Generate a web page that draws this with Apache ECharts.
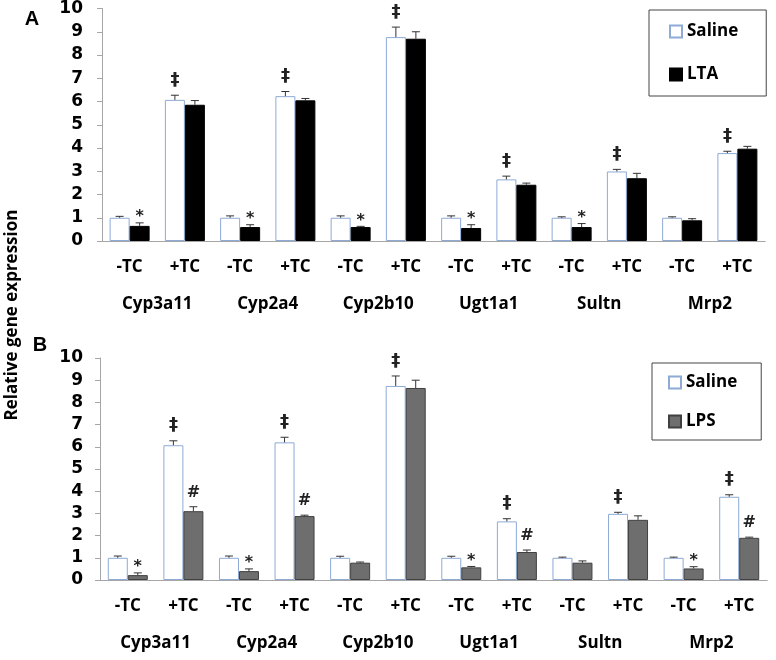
<!DOCTYPE html>
<html>
<head>
<meta charset="utf-8">
<script src="https://cdn.jsdelivr.net/npm/echarts@6/dist/echarts.min.js"></script>
<style>
  html, body { margin: 0; padding: 0; background: #fff; }
  #chart { width: 776px; height: 660px; }
</style>
</head>
<body>
<div id="chart"></div>
<script>
// categories
const subCats = ['-TC', '+TC', '-TC', '+TC', '-TC', '+TC', '-TC', '+TC', '-TC', '+TC', '-TC', '+TC'];
const genes = ['Cyp3a11', 'Cyp2a4', 'Cyp2b10', 'Ugt1a1', 'Sultn', 'Mrp2'];

// panel A: saline vs LTA
const salineA = [1.0, 6.07, 1.0, 6.23, 1.0, 8.77, 1.0, 2.65, 1.0, 2.99, 1.0, 3.78];
const salineAErr = [0.06, 0.2, 0.08, 0.2, 0.08, 0.43, 0.08, 0.14, 0.04, 0.09, 0.04, 0.08];
const ltaA = [0.65, 5.86, 0.6, 6.05, 0.6, 8.7, 0.56, 2.42, 0.6, 2.7, 0.89, 3.97];
const ltaAErr = [0.13, 0.18, 0.1, 0.08, 0.03, 0.3, 0.14, 0.07, 0.15, 0.21, 0.07, 0.1];
const salineAMarks = ['', '‡', '', '‡', '', '‡', '', '‡', '', '‡', '', '‡'];
const ltaAMarks = ['*', '', '*', '', '*', '', '*', '', '*', '', '', ''];

// panel B: saline vs LPS
const salineB = [1.0, 6.07, 1.0, 6.2, 1.0, 8.74, 1.0, 2.64, 1.0, 2.98, 1.0, 3.75];
const salineBErr = [0.08, 0.2, 0.08, 0.23, 0.07, 0.45, 0.07, 0.12, 0.03, 0.07, 0.03, 0.09];
const lpsB = [0.22, 3.1, 0.4, 2.88, 0.78, 8.65, 0.57, 1.26, 0.78, 2.71, 0.52, 1.9];
const lpsBErr = [0.1, 0.2, 0.1, 0.04, 0.03, 0.35, 0.04, 0.09, 0.08, 0.18, 0.08, 0.03];
const salineBMarks = ['', '‡', '', '‡', '', '‡', '', '‡', '', '‡', '', '‡'];
const lpsBMarks = ['*', '#', '*', '#', '', '', '*', '#', '', '', '*', '#'];

const yTicks = [0, 10, 1]; // min, max, interval

const axisGray = '#a6a6a6';
const txtFont = 'Open Sans';
const BAR_W = 20;

function barSeries(name, data, xi, yi, fill, border) {
    return {
        name: name,
        type: 'bar',
        xAxisIndex: xi,
        yAxisIndex: yi,
        data: data,
        barWidth: BAR_W,
        barGap: '0%',
        itemStyle: { color: fill, borderColor: border, borderWidth: 1 }
    };
}

// error bar (upper only) + significance mark
function errSeries(vals, errs, marks, xi, yi, side) {
    return {
        type: 'custom',
        xAxisIndex: xi,
        yAxisIndex: yi,
        z: 5,
        silent: true,
        clip: false,
        encode: { x: 0, y: 1 },
        data: vals.map((v, i) => [i, v, errs[i]]),
        renderItem: function (params, api) {
            let i = api.value(0);
            let top = api.coord([i, api.value(1)]);
            let cap = api.coord([i, api.value(1) + api.value(2)]);
            let x = top[0] + side * BAR_W / 2;
            let kids = [
                { type: 'line', shape: { x1: x, y1: top[1], x2: x, y2: cap[1] }, style: { stroke: '#333', lineWidth: 1 } },
                { type: 'line', shape: { x1: x - 4, y1: cap[1], x2: x + 4, y2: cap[1] }, style: { stroke: '#333', lineWidth: 1 } }
            ];
            let m = marks[params.dataIndex];
            if (m) {
                let gap = m === '*' ? -2 : 6;
                let size = m === '*' ? 16 : (m === '#' ? 16 : 18);
                kids.push({
                    type: 'text',
                    style: {
                        text: m, x: x, y: cap[1] - gap,
                        align: 'center', verticalAlign: 'bottom',
                        font: 'bold ' + size + 'px "DejaVu Sans"',
                        fill: '#222'
                    }
                });
            }
            return { type: 'group', children: kids };
        }
    };
}

function subAxis(gi) {
    return {
        gridIndex: gi, type: 'category', data: subCats, position: 'bottom',
        axisLine: { lineStyle: { color: axisGray } },
        axisTick: { interval: 0, length: 37, lineStyle: { color: axisGray } },
        axisLabel: { interval: 0, margin: 18, color: '#000', fontFamily: txtFont, fontWeight: 'bold', fontSize: 17 }
    };
}

function geneAxis(gi, len) {
    return {
        gridIndex: gi, type: 'category', data: genes, position: 'bottom',
        axisLine: { lineStyle: { color: axisGray } },
        axisTick: { interval: 0, length: len, lineStyle: { color: axisGray } },
        axisLabel: { interval: 0, margin: 55, color: '#000', fontFamily: txtFont, fontWeight: 'bold', fontSize: 17 }
    };
}

function valAxis(gi, margin) {
    return {
        gridIndex: gi, type: 'value', min: yTicks[0], max: yTicks[1], interval: yTicks[2],
        axisLine: { show: true, lineStyle: { color: axisGray } },
        axisTick: { show: true, length: 5, lineStyle: { color: axisGray } },
        splitLine: { show: false },
        axisLabel: { margin: margin, color: '#000', fontFamily: 'DejaVu Sans', fontWeight: 'bold', fontSize: 17 }
    };
}

function legendBox(names, left, top, pad, gap) {
    return {
        data: names, orient: 'vertical', left: left, top: top,
        padding: pad, itemGap: gap, itemWidth: 12, itemHeight: 12, icon: 'rect',
        borderColor: '#444', borderWidth: 1,
        textStyle: { color: '#000', fontFamily: txtFont, fontWeight: 'bold', fontSize: 17 }
    };
}

let chart = echarts.init(document.getElementById('chart'));
chart.setOption({
    animation: false,
    backgroundColor: '#fff',
    grid: [
        { left: 102, top: 8, width: 663, height: 233 },
        { left: 100, top: 358, width: 667, height: 222 }
    ],
    xAxis: [subAxis(0), geneAxis(0, 77), subAxis(1), geneAxis(1, 80)],
    yAxis: [valAxis(0, 19), valAxis(1, 17)],
    legend: [
        legendBox(['Saline', 'LTA'], 649, 10, [13, 28, 13, 20], 26),
        legendBox(['Saline', 'LPS'], 652, 363, [11, 24, 10, 16], 22)
    ],
    graphic: [
        { type: 'text', x: 12, y: 315, rotation: Math.PI / 2,
          style: { text: 'Relative gene expression', align: 'center', verticalAlign: 'middle',
                   font: 'bold 17px "Open Sans"', fill: '#000' } },
        { type: 'text', x: 32, y: 19,
          style: { text: 'A', align: 'center', verticalAlign: 'middle', font: 'bold 20px "Liberation Sans"', fill: '#000' } },
        { type: 'text', x: 40, y: 345,
          style: { text: 'B', align: 'center', verticalAlign: 'middle', font: 'bold 20px "Liberation Sans"', fill: '#000' } }
    ],
    series: [
        barSeries('Saline', salineA, 0, 0, '#ffffff', '#8eaad6'),
        barSeries('LTA', ltaA, 0, 0, '#000000', '#000000'),
        errSeries(salineA, salineAErr, salineAMarks, 0, 0, -1),
        errSeries(ltaA, ltaAErr, ltaAMarks, 0, 0, 1),
        barSeries('Saline', salineB, 2, 1, '#ffffff', '#8eaad6'),
        barSeries('LPS', lpsB, 2, 1, '#6e6e6e', '#404040'),
        errSeries(salineB, salineBErr, salineBMarks, 2, 1, -1),
        errSeries(lpsB, lpsBErr, lpsBMarks, 2, 1, 1)
    ]
});
</script>
</body>
</html>
